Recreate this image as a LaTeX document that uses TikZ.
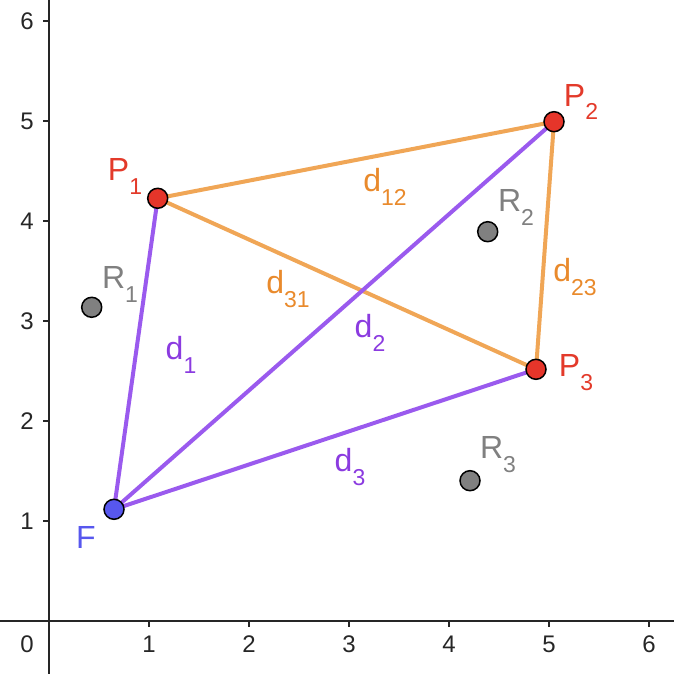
\documentclass[tikz,border=0pt]{standalone}
\usepackage{fontspec}
\setmainfont{Liberation Sans}
\usetikzlibrary{backgrounds}
\definecolor{axisc}{HTML}{262626}
\definecolor{orl}{HTML}{F0A656}
\definecolor{ort}{HTML}{E98A2C}
\definecolor{pul}{HTML}{9A5AEE}
\definecolor{put}{HTML}{8B3BE0}
\definecolor{redf}{HTML}{E5352A}
\definecolor{redt}{HTML}{E33A2A}
\definecolor{bluef}{HTML}{5757EE}
\definecolor{greyf}{HTML}{808080}
\newcommand\lbl[2]{#1\raisebox{-14pt}{\fontsize{23}{23}\selectfont #2}}
\begin{document}
\begin{tikzpicture}[x=100pt,y=100pt,
  pt/.style={circle,draw=black,line width=1.5pt,minimum size=20pt,inner sep=0pt},
  seg/.style={line width=4pt},
  lab/.style={font=\fontsize{32}{32}\selectfont,inner sep=0pt},
  ticklab/.style={font=\fontsize{24}{24}\selectfont,text=axisc,inner sep=0pt},
  axis/.style={draw=axisc,line width=2pt}]
\useasboundingbox (-0.49,-0.53) rectangle (6.25,6.21);
% axes
\coordinate (xl) at (-0.49,0);
\coordinate (xr) at (6.25,0);
\coordinate (yb) at (0,-0.53);
\coordinate (yt) at (0,6.21);
\draw[axis] (xl) -- (xr);
\draw[axis] (yb) -- (yt);
\foreach \i in {1,...,6}{
  \draw[axis] (\i,0) -- (\i,-0.06);
  \draw[axis] (0,\i) -- (-0.06,\i);
  \node[ticklab] (xt\i) at (\i,-0.23) {\i};
  \node[ticklab] (yt\i) at (-0.22,\i) {\i};
}
\node[ticklab] (zero) at (-0.22,-0.23) {0};
% points
\node[pt,fill=redf] (P1) at (1.087,4.227) {};
\node[pt,fill=redf] (P2) at (5.05,4.993) {};
\node[pt,fill=redf] (P3) at (4.87,2.517) {};
\node[pt,fill=bluef] (F) at (0.65,1.117) {};
\node[pt,fill=greyf] (R1) at (0.427,3.137) {};
\node[pt,fill=greyf] (R2) at (4.387,3.893) {};
\node[pt,fill=greyf] (R3) at (4.21,1.403) {};
\begin{scope}[on background layer]
  \draw[seg,orl] (P1.center) -- (P2.center);
  \draw[seg,orl] (P2.center) -- (P3.center);
  \draw[seg,orl] (P3.center) -- (P1.center);
  \draw[seg,pul] (F.center) -- (P1.center);
  \draw[seg,pul] (F.center) -- (P2.center);
  \draw[seg,pul] (F.center) -- (P3.center);
\end{scope}
% labels
\node[lab,text=redt] (lP1) at (0.76,4.45) {\lbl{P}{1}};
\node[lab,text=redt] (lP2) at (5.32,5.19) {\lbl{P}{2}};
\node[lab,text=redt] (lP3) at (5.27,2.48) {\lbl{P}{3}};
\node[lab,text=bluef] (lF) at (0.37,0.84) {F};
\node[lab,text=greyf] (lR1) at (0.71,3.37) {\lbl{R}{1}};
\node[lab,text=greyf] (lR2) at (4.67,4.14) {\lbl{R}{2}};
\node[lab,text=greyf] (lR3) at (4.49,1.66) {\lbl{R}{3}};
\node[lab,text=ort] (l12) at (3.36,4.34) {\lbl{d}{12}};
\node[lab,text=ort] (l31) at (2.39,3.32) {\lbl{d}{31}};
\node[lab,text=ort] (l23) at (5.26,3.44) {\lbl{d}{23}};
\node[lab,text=put] (l1) at (1.32,2.66) {\lbl{d}{1}};
\node[lab,text=put] (l2) at (3.21,2.88) {\lbl{d}{2}};
\node[lab,text=put] (l3) at (3.01,1.54) {\lbl{d}{3}};
\end{tikzpicture}
\end{document}
